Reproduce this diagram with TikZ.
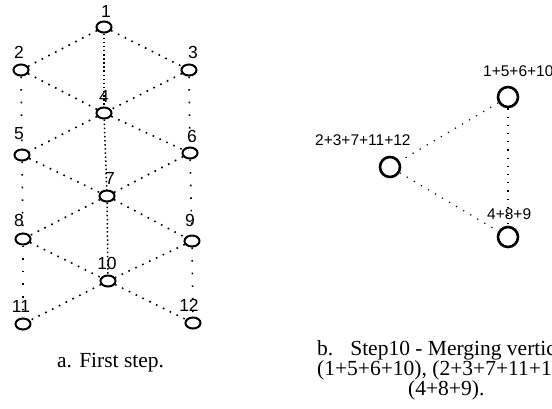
\documentclass[tikz,border=0pt]{standalone}
\usepackage{fontspec}
\setmainfont{Liberation Serif}
\newfontfamily\labfont{Liberation Sans}
\usetikzlibrary{shapes.geometric}
\begin{document}
\begin{tikzpicture}[x=1pt,y=-1pt,
  vsmall/.style={ellipse,draw,line width=2pt,minimum width=15pt,minimum height=11pt,inner sep=0pt},
  vbig/.style={circle,draw,line width=2.6pt,minimum size=20pt,inner sep=0pt},
  lab/.style={font=\labfont\fontsize{17.5}{17.5}\selectfont,inner sep=0pt,text height=0.72em,text depth=0pt},
  blab/.style={font=\labfont\fontsize{15.5}{15.5}\selectfont,inner sep=0pt,text height=0.72em,text depth=0pt},
  captext/.style={font=\fontsize{21.5}{21.5}\selectfont,inner sep=0pt,anchor=base west},
  ediag/.style={line width=1.6pt,dash pattern=on 1.6pt off 6pt},
  esparse/.style={line width=1.6pt,dash pattern=on 1.6pt off 11pt},
  edense/.style={line width=1.5pt,dash pattern=on 1.5pt off 2.6pt},
  eright/.style={line width=1.2pt,dash pattern=on 1.2pt off 7pt}]
\useasboundingbox (0,0) rectangle (552,408);
% left graph nodes
\node[vsmall] (n1) at (104,27) {};
\node[vsmall] (n2) at (21,70) {};
\node[vsmall] (n3) at (189,70) {};
\node[vsmall] (n4) at (104,113) {};
\node[vsmall] (n5) at (22,155) {};
\node[vsmall] (n6) at (190,153) {};
\node[vsmall] (n7) at (107,196) {};
\node[vsmall] (n8) at (23,239) {};
\node[vsmall] (n9) at (192,241) {};
\node[vsmall] (n10) at (108,281) {};
\node[vsmall] (n11) at (23,324) {};
\node[vsmall] (n12) at (193,323) {};
% labels
\node[lab] (l1) at (106,14) {1};
\node[lab] (l2) at (19,55) {2};
\node[lab] (l3) at (193,55) {3};
\node[lab] (l4) at (104,99) {4};
\node[lab] (l5) at (19,136) {5};
\node[lab] (l6) at (192,139) {6};
\node[lab] (l7) at (110,181) {7};
\node[lab] (l8) at (19,223) {8};
\node[lab] (l9) at (190,223) {9};
\node[lab] (l10) at (107,266) {10};
\node[lab] (l11) at (21,309) {11};
\node[lab] (l12) at (189,308) {12};
% left edges
\draw[ediag] (n1) -- (n2);
\draw[ediag] (n1) -- (n3);
\draw[edense] (n1) -- (n4);
\draw[ediag] (n2) -- (n4);
\draw[ediag] (n3) -- (n4);
\draw[esparse] (n2) -- (n5);
\draw[esparse] (n3) -- (n6);
\draw[ediag] (n4) -- (n5);
\draw[ediag] (n4) -- (n6);
\draw[edense] (n4) -- (n7);
\draw[ediag] (n5) -- (n7);
\draw[ediag] (n6) -- (n7);
\draw[esparse] (n5) -- (n8);
\draw[esparse] (n6) -- (n9);
\draw[ediag] (n7) -- (n8);
\draw[ediag] (n7) -- (n9);
\draw[edense] (n7) -- (n10);
\draw[ediag] (n8) -- (n10);
\draw[ediag] (n9) -- (n10);
\draw[esparse] (n8) -- (n11);
\draw[esparse] (n9) -- (n12);
\draw[ediag] (n10) -- (n11);
\draw[ediag] (n10) -- (n12);
% right graph
\node[vbig] (a) at (508,97) {};
\node[vbig] (b) at (390,167) {};
\node[vbig] (c) at (508,237) {};
\node[blab,anchor=west] (la) at (483,73) {1+5+6+10};
\node[blab,anchor=west] (lb) at (315,142) {2+3+7+11+12};
\node[blab,anchor=west] (lc) at (487,216) {4+8+9};
\draw[eright] (a) -- (b);
\draw[eright] (b) -- (c);
\draw[eright] (a) -- (c);
% captions
\node[captext] (capa) at (57,367) {a. First step.};
\node[captext] (capb1) at (317,355) {b.\hspace{17pt}Step10 - Merging vertices};
\node[captext] (capb2) at (317,375) {(1+5+6+10), (2+3+7+11+12)};
\node[captext] (capb3) at (408,395) {(4+8+9).};
\end{tikzpicture}
\end{document}
